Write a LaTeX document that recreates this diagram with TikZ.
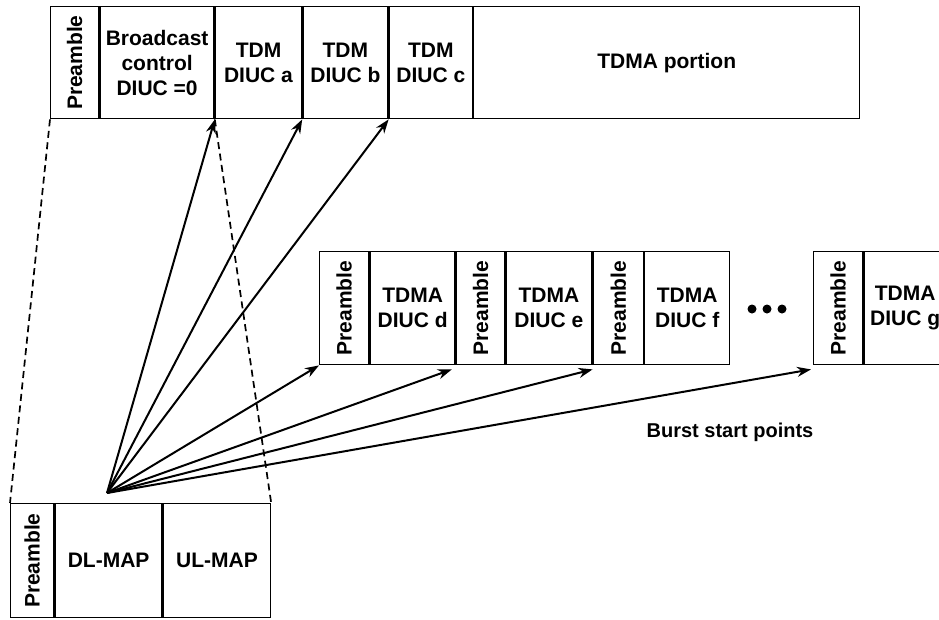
\documentclass[tikz,border=0pt]{standalone}
\usepackage{fontspec}
\setmainfont{Liberation Sans}
\usetikzlibrary{arrows.meta}
\begin{document}
\begin{tikzpicture}[x=1pt,y=-1pt,
  cell/.style={draw, line width=1.4pt, anchor=north west, inner sep=0pt, align=center,
               font=\bfseries\fontsize{21}{25}\selectfont},
  pre/.style={cell, font=\bfseries\fontsize{21}{24}\selectfont},
  arr/.style={line width=2pt, -{Stealth[length=14pt,width=10pt]}},
  dsh/.style={line width=1.7pt, dash pattern=on 7pt off 4.5pt},
  dot/.style={circle, fill, inner sep=0pt, minimum size=9pt},
  lbl/.style={font=\bfseries\fontsize{20}{24}\selectfont}]
\useasboundingbox (0,0) rectangle (939,619);
% top row
\node[pre,  minimum width=48pt,  minimum height=112pt] (t0) at (50,6) {\rotatebox{90}{Preamble}};
\node[cell, minimum width=114pt, minimum height=112pt] (t1) at (t0.north east) {Broadcast\\control\\DIUC =0};
\node[cell, minimum width=86pt,  minimum height=112pt] (t2) at (t1.north east) {TDM\\DIUC a};
\node[cell, minimum width=85pt,  minimum height=112pt] (t3) at (t2.north east) {TDM\\DIUC b};
\node[cell, minimum width=83pt,  minimum height=112pt] (t4) at (t3.north east) {TDM\\DIUC c};
\node[cell, minimum width=386pt, minimum height=112pt] (t5) at (t4.north east) {TDMA portion};
% middle row
\node[pre,  minimum width=49pt, minimum height=113pt] (m0) at (319,251) {\rotatebox{90}{Preamble}};
\node[cell, minimum width=85pt, minimum height=113pt] (m1) at (m0.north east) {TDMA\\DIUC d};
\node[pre,  minimum width=48pt, minimum height=113pt] (m2) at (m1.north east) {\rotatebox{90}{Preamble}};
\node[cell, minimum width=86pt, minimum height=113pt] (m3) at (m2.north east) {TDMA\\DIUC e};
\node[pre,  minimum width=50pt, minimum height=113pt] (m4) at (m3.north east) {\rotatebox{90}{Preamble}};
\node[cell, minimum width=85pt, minimum height=113pt] (m5) at (m4.north east) {TDMA\\DIUC f};
\node[pre,  minimum width=49pt, minimum height=113pt] (m6) at (813,251) {\rotatebox{90}{Preamble}};
\node[cell, minimum width=82pt, minimum height=113pt] (m7) at (m6.north east) {TDMA\\DIUC g};
% dots
\node[dot] (d1) at (752,309) {};
\node[dot] (d2) at (767,309) {};
\node[dot] (d3) at (782,309) {};
% bottom
\node[pre,  minimum width=43pt,  minimum height=114pt] (b0) at (10,503) {\rotatebox{90}{Preamble}};
\node[cell, minimum width=107pt, minimum height=114pt] (b1) at (b0.north east) {DL-MAP};
\node[cell, minimum width=107pt, minimum height=114pt] (b2) at (b1.north east) {UL-MAP};
% label
\node[lbl] (burst) at (730,432) {Burst start points};
% dashed projection
\draw[dsh] (t0.south west) -- (b0.north west);
\draw[dsh] (t1.south east) -- (b2.north east);
% arrows
\coordinate (o) at (107,493);
\draw[arr] (o) -- (t2.south west);
\draw[arr] (o) -- (t3.south west);
\draw[arr] (o) -- (t4.south west);
\draw[arr] (o) -- (m0.south west);
\draw[arr] (o) -- ([xshift=-4pt,yshift=-4pt]m2.south west);
\draw[arr] (o) -- ([yshift=-4pt]m4.south west);
\draw[arr] (o) -- ([xshift=-2pt,yshift=-4pt]m6.south west);
\end{tikzpicture}
\end{document}
